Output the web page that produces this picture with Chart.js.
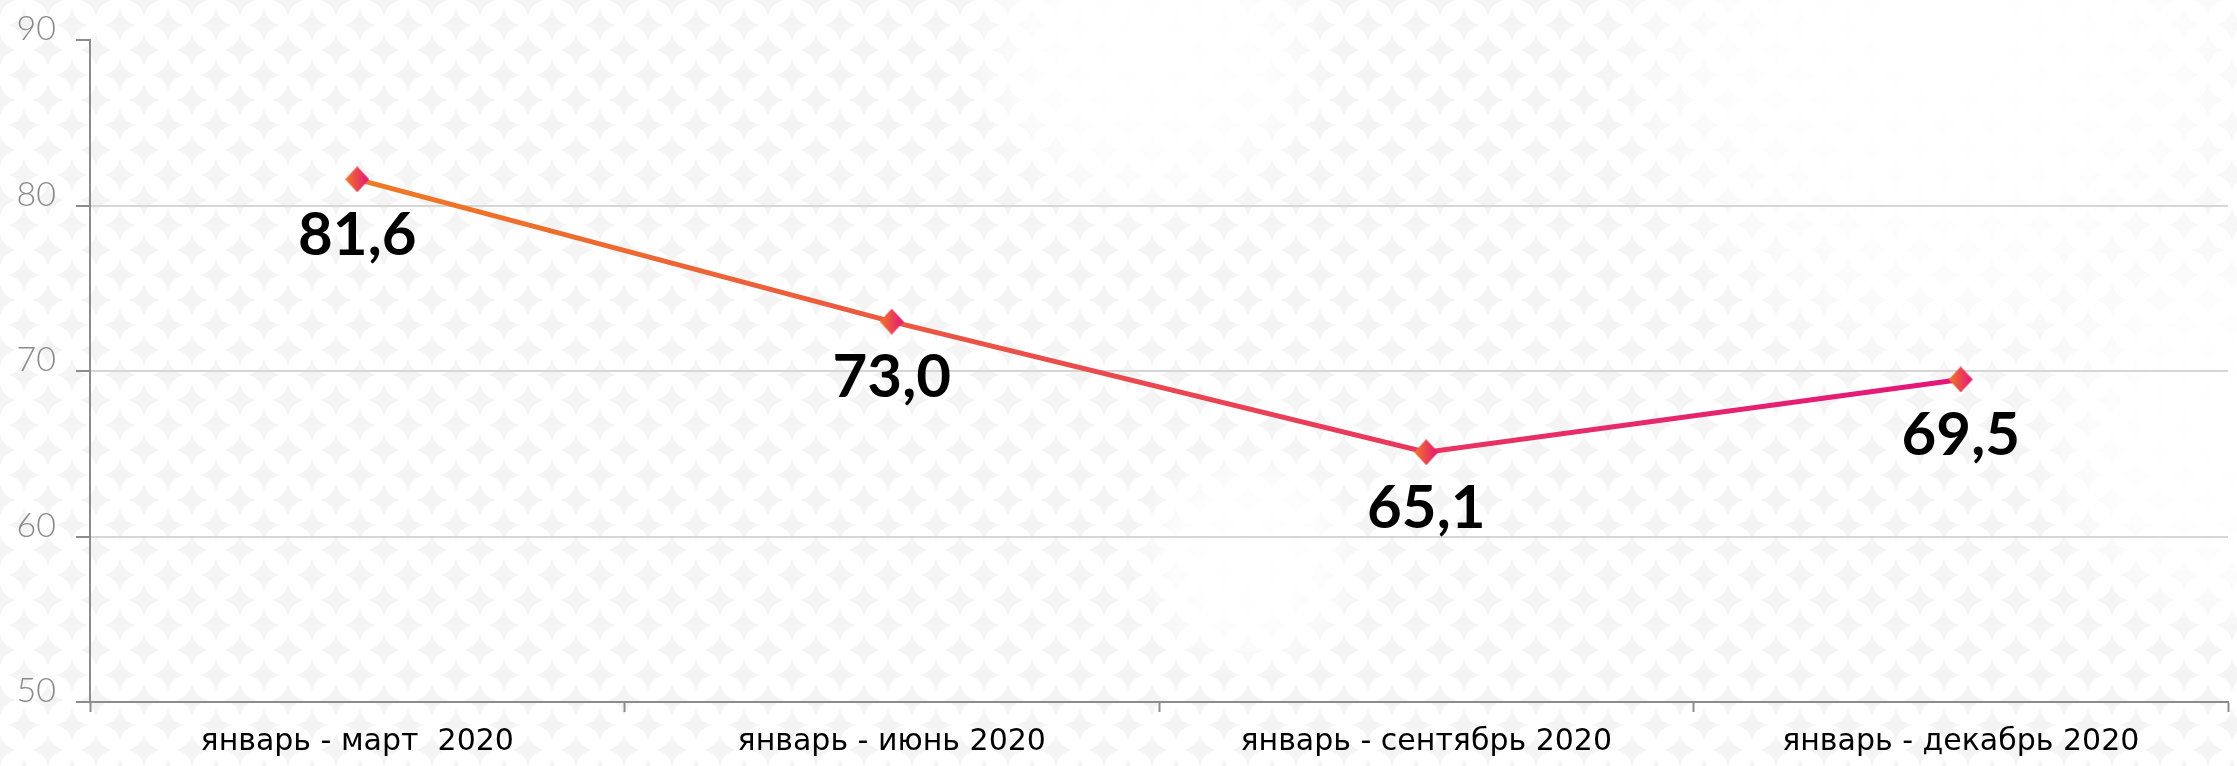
<!DOCTYPE html>
<html>
<head>
<meta charset="utf-8">
<script src="https://cdn.jsdelivr.net/npm/chart.js@4/dist/chart.umd.min.js"></script>
<style>
  html, body { margin: 0; padding: 0; background: #fff; overflow: hidden; }
  #wrap { width: 2237px; height: 766px; position: relative; }
  #lineChart { display: block; }
</style>
</head>
<body>
<div id="wrap"><canvas id="lineChart"></canvas></div>
<script>
// chart data
const periods = ['январь - март  2020', 'январь - июнь 2020', 'январь - сентябрь 2020', 'январь - декабрь 2020'];
const shares = [81.6, 73.0, 65.1, 69.5];
const yTicks = [50, 60, 70, 80, 90];

const ORANGE = '#ef7a22';
const PINK = '#e5137d';

// diamond marker with its own left-to-right gradient
function makeMarker() {
    const c = document.createElement('canvas');
    c.width = 24; c.height = 26;
    const g = c.getContext('2d');
    const grad = g.createLinearGradient(0, 0, 24, 0);
    grad.addColorStop(0, ORANGE);
    grad.addColorStop(1, PINK);
    g.fillStyle = grad;
    g.beginPath();
    g.moveTo(12, 0);
    g.lineTo(24, 13);
    g.lineTo(12, 26);
    g.lineTo(0, 13);
    g.closePath();
    g.fill();
    return c;
}

// faint star pattern behind the chart
function makeTile() {
    const c = document.createElement('canvas');
    c.width = 48; c.height = 50;
    const g = c.getContext('2d');
    g.fillStyle = '#f4f4f4';
    const star = (x, y) => {
        const r = 16, k = 3;
        g.beginPath();
        g.moveTo(x, y - r);
        g.quadraticCurveTo(x + k, y - k, x + r, y);
        g.quadraticCurveTo(x + k, y + k, x, y + r);
        g.quadraticCurveTo(x - k, y + k, x - r, y);
        g.quadraticCurveTo(x - k, y - k, x, y - r);
        g.fill();
    };
    [[0, 0], [48, 0], [0, 50], [48, 50], [24, 25]].forEach(p => star(p[0], p[1]));
    return c;
}

const backdrop = {
    id: 'backdrop',
    beforeDraw(chart) {
        const ctx = chart.ctx;
        const w = chart.width, h = chart.height;
        ctx.save();
        ctx.fillStyle = '#fff';
        ctx.fillRect(0, 0, w, h);
        ctx.fillStyle = ctx.createPattern(makeTile(), 'repeat');
        ctx.fillRect(0, 0, w, h);
        [[1150, 50, 190], [1950, 40, 360], [2237, 430, 220], [1250, 560, 120]].forEach(b => {
            const rg = ctx.createRadialGradient(b[0], b[1], 0, b[0], b[1], b[2]);
            rg.addColorStop(0, 'rgba(255,255,255,1)');
            rg.addColorStop(0.6, 'rgba(255,255,255,0.85)');
            rg.addColorStop(1, 'rgba(255,255,255,0)');
            ctx.fillStyle = rg;
            ctx.fillRect(0, 0, w, h);
        });
        ctx.restore();
    }
};

// big value labels under each point
const valueLabels = {
    id: 'valueLabels',
    afterDatasetsDraw(chart) {
        const ctx = chart.ctx;
        const meta = chart.getDatasetMeta(0);
        ctx.save();
        ctx.font = 'bold 60px Lato';
        ctx.fillStyle = '#000';
        ctx.textAlign = 'center';
        ctx.textBaseline = 'middle';
        meta.data.forEach((pt, i) => {
            ctx.fillText(shares[i].toFixed(1).replace('.', ','), pt.x, pt.y + 56);
        });
        ctx.restore();
    }
};

document.addEventListener('DOMContentLoaded', () => {
    const ctx = document.getElementById('lineChart');
    const marker = makeMarker();

    new Chart(ctx, {
        type: 'line',
        data: {
            labels: periods,
            datasets: [{
                data: shares,
                borderWidth: 5,
                borderColor: (c) => {
                    const area = c.chart.chartArea;
                    if (!area) return ORANGE;
                    const grad = c.chart.ctx.createLinearGradient(area.left + 260, 0, area.right - 260, 0);
                    grad.addColorStop(0, ORANGE);
                    grad.addColorStop(1, PINK);
                    return grad;
                },
                pointStyle: marker,
                tension: 0
            }]
        },
        options: {
            responsive: true,
            maintainAspectRatio: false,
            animation: false,
            layout: { padding: { top: 37, right: 3, left: 0, bottom: 0 } },
            plugins: {
                legend: { display: false },
                tooltip: { enabled: false }
            },
            scales: {
                x: {
                    offset: true,
                    afterFit: (s) => { s.height = 64; },
                    border: { color: '#8c8c8c', width: 2 },
                    grid: {
                        offset: true,
                        drawOnChartArea: false,
                        tickLength: 10,
                        tickColor: '#8c8c8c',
                        tickWidth: 2
                    },
                    ticks: {
                        color: '#000',
                        padding: 12,
                        font: { family: 'DejaVu Sans', size: 30 }
                    }
                },
                y: {
                    min: 50,
                    max: 90,
                    afterFit: (s) => { s.width = 90; },
                    afterBuildTicks: (s) => { s.ticks = yTicks.map(v => ({ value: v })); },
                    border: { color: '#8c8c8c', width: 2 },
                    grid: {
                        color: (c) => (c.tick && c.tick.value > 50 && c.tick.value < 90) ? '#d6d6d6' : 'rgba(0,0,0,0)',
                        lineWidth: 2,
                        tickLength: 14,
                        tickColor: '#8c8c8c',
                        tickWidth: 2
                    },
                    ticks: {
                        color: '#8a8a8a',
                        padding: 20,
                        labelOffset: -11,
                        font: { family: 'Lato', size: 34, weight: 300 }
                    }
                }
            }
        },
        plugins: [backdrop, valueLabels]
    });
});
</script>
</body>
</html>
